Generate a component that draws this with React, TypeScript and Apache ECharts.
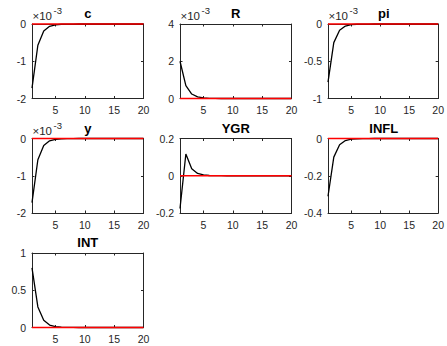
import React, { useEffect, useRef } from "react";
import * as echarts from "echarts";

const periods = [1, 2, 3, 4, 5, 6, 7, 8, 9, 10, 11, 12, 13, 14, 15, 16, 17, 18, 19, 20];
const xTickValues = [5, 10, 15, 20];

const titles = ["c", "R", "pi", "y", "YGR", "INFL", "INT"];

const cValues = [-0.00172, -0.00057, -0.00019, -0.000063, -0.000021, -0.000007, -0.0000024, -0.0000008, -0.0000003, -0.0000001, 0, 0, 0, 0, 0, 0, 0, 0, 0, 0];
const rValues = [0.002, 0.00069, 0.00024, 0.000083, 0.000029, 0.00001, 0.0000035, 0.0000012, 0.0000004, 0.00000014, 0.00000005, 0, 0, 0, 0, 0, 0, 0, 0, 0];
const piValues = [-0.00078, -0.00025, -0.000085, -0.000028, -0.0000095, -0.0000032, -0.0000011, -0.0000004, -0.00000013, 0, 0, 0, 0, 0, 0, 0, 0, 0, 0, 0];
const yValues = [-0.00172, -0.00057, -0.00019, -0.000063, -0.000021, -0.000007, -0.0000024, -0.0000008, -0.0000003, -0.0000001, 0, 0, 0, 0, 0, 0, 0, 0, 0, 0];
const ygrValues = [-0.176, 0.117, 0.038, 0.0125, 0.0042, 0.0014, 0.0005, 0.00016, 0.00005, 0, 0, 0, 0, 0, 0, 0, 0, 0, 0, 0];
const inflValues = [-0.31, -0.1, -0.034, -0.0112, -0.0038, -0.0013, -0.00044, -0.00015, -0.00005, 0, 0, 0, 0, 0, 0, 0, 0, 0, 0, 0];
const intValues = [0.8, 0.276, 0.096, 0.033, 0.0115, 0.004, 0.0014, 0.0005, 0.00017, 0.00006, 0, 0, 0, 0, 0, 0, 0, 0, 0, 0];
const zeroLine = [0, 0, 0, 0, 0, 0, 0, 0, 0, 0, 0, 0, 0, 0, 0, 0, 0, 0, 0, 0];

// y-axis ranges and the exponent shown above the axis
const yMins = [-0.002, 0, -0.001, -0.002, -0.2, -0.4, 0];
const yMaxs = [0, 0.004, 0, 0, 0.2, 0, 1];
const yIntervals = [0.001, 0.002, 0.0005, 0.001, 0.2, 0.2, 0.5];
const yExponents = [-3, -3, -3, -3, 0, 0, 0];

const seriesValues = [cValues, rValues, piValues, yValues, ygrValues, inflValues, intValues];

export default function App() {
  const ref = useRef<HTMLDivElement>(null);

  useEffect(() => {
    if (!ref.current) return;
    const chart = echarts.init(ref.current, null, { renderer: "svg" });

    const colLefts = [32, 180, 328];
    const rowTops = [24, 138.5, 253];
    const boxW = 111.5;
    const boxH = 74.5;
    const axisColor = "#262626";
    const fontFamily = '"Liberation Sans", Arial, Helvetica, sans-serif';
    const tickFont = 10.5;

    const grids: any[] = [];
    const xAxes: any[] = [];
    const yAxes: any[] = [];
    const series: any[] = [];
    const graphics: any[] = [];

    titles.forEach((title, i) => {
      const col = i % 3;
      const row = Math.floor(i / 3);
      const left = colLefts[col];
      const top = rowTops[row];
      grids.push({ left, top, width: boxW, height: boxH, show: false });

      const scale = Math.pow(10, -yExponents[i]);
      const fmt = (v: number) => String(parseFloat((v * scale).toFixed(6)));

      const xBase = {
        type: "value",
        gridIndex: i,
        min: 1,
        max: 20,
        splitLine: { show: false },
        axisLine: { show: true, onZero: false, lineStyle: { color: axisColor, width: 1 } },
        axisTick: { show: true, inside: true, length: 2.5, customValues: xTickValues, lineStyle: { color: axisColor } },
      };
      xAxes.push({
        ...xBase,
        position: "bottom",
        axisLabel: { show: true, customValues: xTickValues, color: axisColor, fontSize: tickFont, fontFamily, margin: 6 },
      });
      xAxes.push({
        ...xBase,
        position: "top",
        axisLabel: { show: false, customValues: xTickValues },
      });

      const yBase = {
        type: "value",
        gridIndex: i,
        min: yMins[i],
        max: yMaxs[i],
        interval: yIntervals[i],
        splitLine: { show: false },
        axisLine: { show: true, onZero: false, lineStyle: { color: axisColor, width: 1 } },
        axisTick: { show: true, inside: true, length: 2.5, lineStyle: { color: axisColor } },
      };
      yAxes.push({
        ...yBase,
        position: "left",
        axisLabel: { show: true, color: axisColor, fontSize: tickFont, fontFamily, margin: 6, formatter: fmt },
      });
      yAxes.push({
        ...yBase,
        position: "right",
        axisLabel: { show: false },
      });

      const vals = seriesValues[i];
      series.push({
        type: "line",
        xAxisIndex: 2 * i,
        yAxisIndex: 2 * i,
        data: periods.map((p, k) => [p, vals[k]]),
        symbol: "none",
        clip: false,
        lineStyle: { color: "#000000", width: 1.3 },
        z: 3,
      });
      series.push({
        type: "line",
        xAxisIndex: 2 * i,
        yAxisIndex: 2 * i,
        data: periods.map((p, k) => [p, zeroLine[k]]),
        symbol: "none",
        clip: false,
        lineStyle: { color: "#ff0000", width: 1.6 },
        z: 4,
      });

      graphics.push({
        type: "text",
        x: left + boxW / 2,
        y: top - 10.5,
        style: {
          text: title,
          fill: "#000000",
          font: `bold 13px ${fontFamily}`,
          align: "center",
          verticalAlign: "middle",
        },
      });

      if (yExponents[i] !== 0) {
        graphics.push({
          type: "text",
          x: left + 0.5,
          y: top - 8,
          style: {
            text: "×10",
            fill: axisColor,
            font: `11.5px ${fontFamily}`,
            align: "left",
            verticalAlign: "middle",
          },
        });
        graphics.push({
          type: "text",
          x: left + 21.5,
          y: top - 13.5,
          style: {
            text: String(yExponents[i]),
            fill: axisColor,
            font: `9.5px ${fontFamily}`,
            align: "left",
            verticalAlign: "middle",
          },
        });
      }
    });

    chart.setOption({
      animation: false,
      backgroundColor: "#ffffff",
      grid: grids,
      xAxis: xAxes,
      yAxis: yAxes,
      series,
      graphic: graphics,
    });

    return () => chart.dispose();
  }, []);

  return (
    <div
      ref={ref}
      style={{ position: "fixed", left: 0, top: 0, width: 447, height: 346, background: "#fff" }}
    />
  );
}
